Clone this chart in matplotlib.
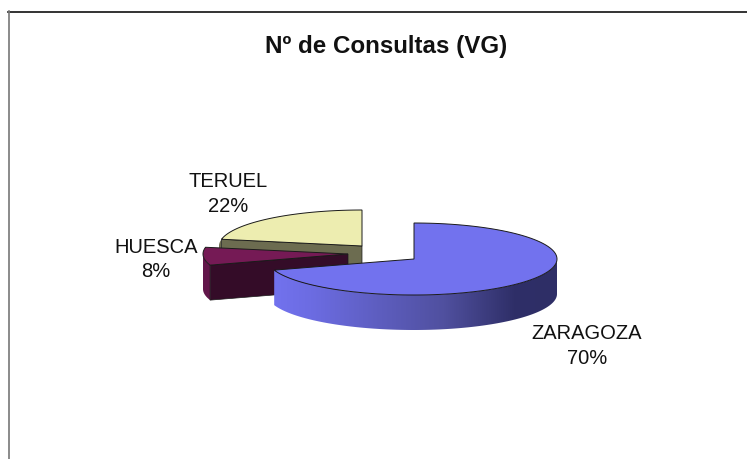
import numpy as np
import matplotlib
matplotlib.use("Agg")
import matplotlib.pyplot as plt
from matplotlib.colors import LinearSegmentedColormap
from matplotlib.patches import Polygon

plt.rcParams['font.family'] = ['Liberation Sans', 'DejaVu Sans']

categories = ["ZARAGOZA", "HUESCA", "TERUEL"]
values = [70, 8, 22]
title = "Nº de Consultas (VG)"

W, H = 747, 459
RX, RY, DEPTH = 143, 36, 35
apex = {"ZARAGOZA": (414, 259), "HUESCA": (348, 254), "TERUEL": (362, 246)}
left_rx = {"ZARAGOZA": 147, "HUESCA": 145, "TERUEL": 143}
top_col = {"ZARAGOZA": "#7272ee", "HUESCA": "#751a55", "TERUEL": "#ededb0"}
side_col = {"ZARAGOZA": "#2e2e66", "HUESCA": "#340c28", "TERUEL": "#6c6c50"}
rim_col = {"HUESCA": "#62164a", "TERUEL": "#6c6c50"}
label_pos = {"ZARAGOZA": (587, 346), "HUESCA": (156, 259.5), "TERUEL": (228, 194)}
EDGE = "#1a1a1a"

fig = plt.figure(figsize=(W / 100, H / 100), dpi=100)
ax = fig.add_axes([0, 0, 1, 1])
ax.set_xlim(0, W)
ax.set_ylim(H, 0)
ax.axis("off")

# chart frame
ax.plot([8, W], [11.5, 11.5], color="#111111", lw=1.2, zorder=1)
ax.plot([8.5, 8.5], [11, H], color="#777777", lw=1.2, zorder=1)


def arc(name, a0, a1, n=120):
    cx, cy = apex[name]
    a = np.radians(np.linspace(a0, a1, n))
    rx = np.where(np.sin(a) < 0, left_rx[name], RX)
    return np.column_stack([cx + rx * np.sin(a), cy - RY * np.cos(a)])


fractions = np.array(values) / np.sum(values) * 360
starts = np.concatenate([[0], np.cumsum(fractions)[:-1]])
spans = {c: (s, s + f) for c, s, f in zip(categories, starts, fractions)}

down = np.array([0, DEPTH])
z = 2
for name in ["TERUEL", "HUESCA", "ZARAGOZA"]:
    a0, a1 = spans[name]
    c = np.array(apex[name], float)
    outer = arc(name, a0, a1)
    if name == "ZARAGOZA":
        # outer rim, front part only, with a left-to-right shading
        vis = arc(name, 90, a1)
        rim = np.vstack([vis, (vis + down)[::-1]])
        patch = Polygon(rim, closed=True, fc="none", ec="none", zorder=z)
        ax.add_patch(patch)
        cmap = LinearSegmentedColormap.from_list(
            "rim", [(0, "#7272ee"), (0.13, "#6c6ce2"), (0.6, "#50509f"),
                    (0.85, "#2f2f68"), (1, "#2e2e66")])
        x0, x1 = rim[:, 0].min(), rim[:, 0].max()
        y0, y1 = rim[:, 1].min(), rim[:, 1].max()
        im = ax.imshow(np.linspace(0, 1, 256)[None, :], cmap=cmap, aspect="auto",
                       extent=[x0, x1, y1, y0], zorder=z, interpolation="bilinear")
        im.set_clip_path(patch)
        ax.set_xlim(0, W)
        ax.set_ylim(H, 0)
    else:
        # front part of the rim, then the cut face that looks towards the viewer
        front = arc(name, a0, min(a1, 270))
        rim = np.vstack([front, (front + down)[::-1]])
        ax.add_patch(Polygon(rim, closed=True, fc=rim_col[name], ec="none", zorder=z))
        p = arc(name, a0, a0, 1)[0]
        face = np.array([c, p, p + down, c + down])
        ax.add_patch(Polygon(face, closed=True, fc=side_col[name], ec=EDGE, lw=0.5, zorder=z + 0.1))
    ax.add_patch(Polygon(np.vstack([c, outer]), closed=True, fc=top_col[name],
                         ec=EDGE, lw=0.7, joinstyle="miter", zorder=z + 0.2))
    z += 1

for name, v in zip(categories, values):
    ax.text(*label_pos[name], f"{name}\n{v}%", ha="center", va="center", fontsize=14.5,
            color="#111111", linespacing=1.36, zorder=10)

ax.text(386, 47, title, ha="center", va="center", fontsize=17.4, fontweight="bold",
        color="#111111", zorder=10)

fig.savefig("out.png", dpi=100)
